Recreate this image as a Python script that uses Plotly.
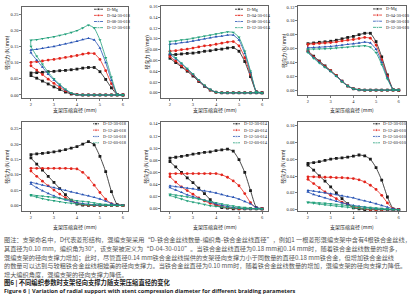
import plotly.graph_objects as go

W, H = 418, 300

# ---------------- data ----------------
# loading path (compression 6 -> 2 mm) and unloading path (2 -> 6 mm)
XU = [6.0, 5.75, 5.5, 5.25, 5.0, 4.75, 4.5, 4.25, 4.0, 3.75, 3.5, 3.25, 3.0, 2.75, 2.5, 2.25, 2.0]
XL = [2.0, 2.25, 2.5, 2.75, 3.0, 3.25, 3.5, 3.75, 4.0, 4.25, 4.5, 4.75, 5.0, 5.25, 5.5, 5.75, 6.0]

# panel 1 : D-xx-30-018
P1_NAMES = ["D-Mg", "D-04-30-018", "D-08-30-018", "D-12-30-018"]
P1_UP = [
    [0, 0.001, 0.022, 0.048, 0.072, 0.085, 0.085, 0.083, 0.080, 0.078, 0.076, 0.075, 0.073, 0.072, 0.070, 0.069, 0.068],
    [0, 0.002, 0.035, 0.075, 0.110, 0.128, 0.129, 0.126, 0.122, 0.119, 0.116, 0.113, 0.110, 0.108, 0.105, 0.103, 0.101],
    [0, 0.002, 0.045, 0.100, 0.145, 0.170, 0.175, 0.171, 0.166, 0.162, 0.158, 0.154, 0.150, 0.147, 0.144, 0.141, 0.139],
    [0, 0.002, 0.055, 0.115, 0.170, 0.207, 0.216, 0.207, 0.199, 0.193, 0.188, 0.184, 0.180, 0.177, 0.174, 0.171, 0.169],
]
P1_LOW = [
    [0.060, 0.052, 0.043, 0.034, 0.025, 0.017, 0.009, 0.003, 0.001, 0, 0, 0, 0, 0, 0, 0, 0],
    [0.090, 0.077, 0.063, 0.049, 0.036, 0.024, 0.013, 0.005, 0.001, 0, 0, 0, 0, 0, 0, 0, 0],
    [0.130, 0.108, 0.086, 0.064, 0.046, 0.030, 0.016, 0.005, 0.001, 0, 0, 0, 0, 0, 0, 0, 0],
    [0.150, 0.120, 0.095, 0.070, 0.050, 0.033, 0.018, 0.006, 0.001, 0, 0, 0, 0, 0, 0, 0, 0],
]

# panel 2 : D-xx-30-014
P2_NAMES = ["D-Mg", "D-04-30-014", "D-08-30-014", "D-12-30-014"]
P2_UP = [
    [0, 0.002, 0.030, 0.058, 0.077, 0.084, 0.083, 0.081, 0.080, 0.078, 0.077, 0.075, 0.0736, 0.073, 0.072, 0.071, 0.0705],
    [0, 0.002, 0.034, 0.065, 0.087, 0.095, 0.094, 0.092, 0.090, 0.088, 0.087, 0.085, 0.083, 0.081, 0.080, 0.078, 0.077],
    [0, 0.002, 0.038, 0.073, 0.098, 0.107, 0.107, 0.105, 0.104, 0.102, 0.100, 0.098, 0.096, 0.094, 0.093, 0.091, 0.090],
    [0, 0.002, 0.040, 0.077, 0.103, 0.112, 0.113, 0.111, 0.109, 0.107, 0.105, 0.103, 0.101, 0.099, 0.098, 0.096, 0.095],
]
P2_LOW = [
    [0.064, 0.056, 0.048, 0.040, 0.031, 0.021, 0.012, 0.005, 0.001, 0, 0, 0, 0, 0, 0, 0, 0],
    [0.067, 0.059, 0.050, 0.042, 0.033, 0.022, 0.013, 0.005, 0.001, 0, 0, 0, 0, 0, 0, 0, 0],
    [0.072, 0.063, 0.054, 0.044, 0.034, 0.023, 0.013, 0.006, 0.001, 0, 0, 0, 0, 0, 0, 0, 0],
    [0.075, 0.065, 0.055, 0.045, 0.035, 0.024, 0.014, 0.006, 0.001, 0, 0, 0, 0, 0, 0, 0, 0],
]

# panel 3 : D-xx-30-010
P3_NAMES = ["D-Mg", "D-04-30-010", "D-08-30-010", "D-12-30-010"]
P3_UP = [
    [0, 0.001, 0.022, 0.048, 0.070, 0.082, 0.082, 0.080, 0.0775, 0.076, 0.074, 0.072, 0.0705, 0.0697, 0.069, 0.068, 0.067],
    [0, 0.001, 0.020, 0.044, 0.065, 0.075, 0.076, 0.0745, 0.073, 0.072, 0.071, 0.0695, 0.0686, 0.068, 0.0673, 0.0667, 0.066],
    [0, 0.001, 0.018, 0.040, 0.059, 0.068, 0.0693, 0.068, 0.067, 0.066, 0.065, 0.064, 0.063, 0.0625, 0.062, 0.0615, 0.061],
    [0, 0.001, 0.016, 0.037, 0.054, 0.062, 0.064, 0.0635, 0.063, 0.062, 0.0615, 0.0607, 0.060, 0.0597, 0.0594, 0.0592, 0.059],
]
P3_LOW = [
    [0.057, 0.049, 0.042, 0.035, 0.028, 0.021, 0.013, 0.006, 0.002, 0.0005, 0, 0, 0, 0, 0, 0, 0],
    [0.056, 0.048, 0.041, 0.034, 0.028, 0.021, 0.013, 0.006, 0.002, 0.0005, 0, 0, 0, 0, 0, 0, 0],
    [0.055, 0.047, 0.040, 0.033, 0.027, 0.020, 0.013, 0.006, 0.002, 0.0005, 0, 0, 0, 0, 0, 0, 0],
    [0.054, 0.046, 0.039, 0.033, 0.027, 0.020, 0.012, 0.006, 0.002, 0.0005, 0, 0, 0, 0, 0, 0, 0],
]

# panel 4 : D-12-xx-018
P4_NAMES = ["D-12-30-018", "D-12-40-018", "D-12-50-018", "D-12-60-018"]
P4_UP = [
    [0, 0.002, 0.045, 0.110, 0.160, 0.198, 0.208, 0.200, 0.192, 0.187, 0.182, 0.178, 0.175, 0.172, 0.170, 0.168, 0.166],
    [0, 0.001, 0.006, 0.020, 0.042, 0.066, 0.090, 0.108, 0.119, 0.120, 0.121, 0.121, 0.121, 0.121, 0.121, 0.121, 0.121],
    [0, 0.001, 0.006, 0.014, 0.021, 0.026, 0.031, 0.035, 0.040, 0.044, 0.049, 0.053, 0.058, 0.062, 0.066, 0.071, 0.075],
    [0, 0, 0.001, 0.003, 0.005, 0.008, 0.011, 0.013, 0.015, 0.018, 0.020, 0.023, 0.026, 0.028, 0.030, 0.032, 0.0345],
]
P4_LOW = [
    [0.155, 0.135, 0.115, 0.095, 0.075, 0.055, 0.035, 0.017, 0.004, 0.001, 0, 0, 0, 0, 0, 0, 0],
    [0.112, 0.095, 0.079, 0.064, 0.050, 0.037, 0.025, 0.015, 0.008, 0.003, 0.001, 0, 0, 0, 0, 0, 0],
    [0.070, 0.058, 0.048, 0.039, 0.031, 0.024, 0.018, 0.013, 0.009, 0.006, 0.004, 0.002, 0.001, 0, 0, 0, 0],
    [0.032, 0.027, 0.022, 0.018, 0.015, 0.012, 0.009, 0.007, 0.005, 0.003, 0.002, 0.001, 0.0005, 0, 0, 0, 0],
]

# panel 5 : D-12-xx-014
P5_NAMES = ["D-12-30-014", "D-12-40-014", "D-12-50-014", "D-12-60-014"]
P5_UP = [
    [0, 0.002, 0.030, 0.060, 0.081, 0.095, 0.0985, 0.097, 0.096, 0.094, 0.093, 0.0915, 0.090, 0.088, 0.0865, 0.085, 0.0835],
    [0, 0.001, 0.010, 0.025, 0.038, 0.046, 0.052, 0.056, 0.058, 0.058, 0.058, 0.058, 0.058, 0.058, 0.058, 0.058, 0.0577],
    [0, 0.002, 0.008, 0.012, 0.016, 0.019, 0.021, 0.0235, 0.026, 0.028, 0.0295, 0.031, 0.033, 0.034, 0.0355, 0.0365, 0.0377],
    [0, 0, 0.001, 0.002, 0.003, 0.0045, 0.006, 0.008, 0.010, 0.012, 0.014, 0.016, 0.018, 0.0195, 0.021, 0.0225, 0.024],
]
P5_LOW = [
    [0.078, 0.069, 0.060, 0.051, 0.043, 0.034, 0.025, 0.015, 0.006, 0.002, 0.001, 0, 0, 0, 0, 0, 0],
    [0.053, 0.044, 0.036, 0.030, 0.024, 0.018, 0.013, 0.009, 0.0065, 0.004, 0.002, 0.001, 0, 0, 0, 0, 0],
    [0.035, 0.031, 0.027, 0.023, 0.020, 0.017, 0.014, 0.011, 0.008, 0.006, 0.004, 0.002, 0.001, 0, 0, 0, 0],
    [0.022, 0.019, 0.016, 0.013, 0.011, 0.009, 0.007, 0.005, 0.004, 0.003, 0.002, 0.001, 0.001, 0, 0, 0, 0],
]

# panel 6 : D-12-xx-010
P6_NAMES = ["D-12-30-010", "D-12-40-010", "D-12-50-010", "D-12-60-010"]
P6_UP = [
    [0, 0.001, 0.015, 0.035, 0.050, 0.060, 0.064, 0.065, 0.0636, 0.0625, 0.0615, 0.061, 0.060, 0.0585, 0.057, 0.056, 0.055],
    [0, 0.001, 0.008, 0.017, 0.024, 0.029, 0.033, 0.0355, 0.037, 0.0375, 0.038, 0.038, 0.0385, 0.0385, 0.0388, 0.039, 0.039],
    [0, 0.001, 0.003, 0.005, 0.007, 0.0088, 0.0105, 0.012, 0.014, 0.0152, 0.0165, 0.0178, 0.019, 0.020, 0.021, 0.022, 0.0228],
    [0, 0, 0.001, 0.0015, 0.002, 0.0025, 0.003, 0.0035, 0.004, 0.0048, 0.0055, 0.0062, 0.007, 0.0075, 0.008, 0.0085, 0.0088],
]
P6_LOW = [
    [0.053, 0.047, 0.040, 0.034, 0.027, 0.020, 0.013, 0.007, 0.002, 0.001, 0, 0, 0, 0, 0, 0, 0],
    [0.036, 0.031, 0.026, 0.021, 0.017, 0.013, 0.009, 0.006, 0.003, 0.002, 0.001, 0, 0, 0, 0, 0, 0],
    [0.021, 0.018, 0.016, 0.014, 0.012, 0.010, 0.008, 0.0065, 0.005, 0.004, 0.003, 0.002, 0.001, 0.0005, 0, 0, 0],
    [0.0085, 0.0075, 0.0065, 0.0057, 0.005, 0.0042, 0.0035, 0.0028, 0.002, 0.0015, 0.001, 0.0007, 0.0005, 0.0002, 0, 0, 0],
]

X_TICKS = [2, 3, 4, 5, 6]
Y_TICKS = [
    [0, 0.05, 0.10, 0.15, 0.20, 0.25],
    [0, 0.02, 0.04, 0.06, 0.08, 0.10, 0.12, 0.14, 0.16],
    [0, 0.02, 0.04, 0.06, 0.08, 0.10, 0.12],
    [0, 0.05, 0.10, 0.15, 0.20, 0.25],
    [0, 0.02, 0.04, 0.06, 0.08, 0.10, 0.12, 0.14],
    [0, 0.02, 0.04, 0.06, 0.08, 0.10],
]

X_TITLE = "支架压缩直径 (mm)"
Y_TITLE = "径向力 (N/mm)"

CAPTION = [
    "图注：支架命名中，D代表菱形结构，混编支架采用“D-铁合金丝线数量-编织角-铁合金丝线直径”，例如1 一根菱形混编支架中含有4根铁合金丝线，",
    "其直径为0.10 mm，编织角为30°，该支架被定义为“D-04-30-010”。当铁合金丝线直径为0.18 mm和0.14 mm时，随着铁合金丝线数量的增多，",
    "混编支架的径向支撑力增加；此时，尽管直径0.14 mm铁合金丝线提供的支架径向支撑力小于同数量的直径0.18 mm铁合金，但增加铁合金丝线",
    "的数量可以达到与较粗铁合金丝线相媲美的径向支撑力。当铁合金丝直径为0.10 mm时，随着铁合金丝线数量的增加，混编支架的径向支撑力降低。",
    "增大编织角度，混编支架的径向支撑力降低。",
]
FIG_TITLE_CN = "图6 | 不同编织参数时支架径向支撑力随支架压缩直径的变化"
FIG_TITLE_EN = "Figure 6 | Variation of radial support with stent compression diameter for different braiding parameters"

DATA = [
    (P1_NAMES, P1_UP, P1_LOW), (P2_NAMES, P2_UP, P2_LOW), (P3_NAMES, P3_UP, P3_LOW),
    (P4_NAMES, P4_UP, P4_LOW), (P5_NAMES, P5_UP, P5_LOW), (P6_NAMES, P6_UP, P6_LOW),
]

# ---------------- layout / style ----------------
COLORS = ["#1a1a1a", "#e3241b", "#2451b3", "#21a07a"]
SYMBOLS = ["square", "circle", "triangle-up", "triangle-down"]

# frame (left, right, top, bottom) in px, axis ranges
PANELS = [
    dict(frame=(22, 128, 5, 97), xr=(1.61, 6.22), yr=(-0.0094, 0.272), xl_y=109.5),
    dict(frame=(161, 268, 4, 97), xr=(1.61, 6.26), yr=(-0.0097, 0.161), xl_y=109.5),
    dict(frame=(298, 406, 4, 94), xr=(1.56, 6.32), yr=(-0.0071, 0.1214), xl_y=109.5),
    dict(frame=(22, 128, 121, 211), xr=(1.61, 6.22), yr=(-0.018, 0.273), xl_y=227),
    dict(frame=(161, 268, 121, 211), xr=(1.61, 6.26), yr=(-0.0035, 0.1435), xl_y=227),
    dict(frame=(298, 406, 121, 211), xr=(1.56, 6.32), yr=(-0.0015, 0.1045), xl_y=227),
]
# legend: line start, line end, text x, first row y, row step (px)
LEGENDS = [
    (94, 103, 105, 7.3, 6.2), (235, 243, 245, 7.3, 6.2), (373, 382, 384, 7.0, 6.2),
    (93, 99, 101, 123, 6.4), (233, 240, 242, 123, 6.4), (373, 380, 381, 123, 6.4),
]

TICKFONT = dict(family="Liberation Serif", size=4.5, color="#222")
CJK = "Noto Sans CJK SC"

fig = go.Figure()
layout = dict(width=W, height=H, margin=dict(l=0, r=0, t=0, b=0),
              paper_bgcolor="white", plot_bgcolor="rgba(0,0,0,0)", showlegend=False)
annotations = []

for i, (pan, (names, ups, lows)) in enumerate(zip(PANELS, DATA)):
    k = i + 1
    l, r, t, b = pan["frame"]
    xa = "xaxis" if k == 1 else f"xaxis{k}"
    ya = "yaxis" if k == 1 else f"yaxis{k}"
    xs = "x" if k == 1 else f"x{k}"
    ys = "y" if k == 1 else f"y{k}"
    axis_common = dict(showline=True, linecolor="#222", linewidth=0.7, mirror=True,
                       ticks="outside", ticklen=2, tickwidth=0.6, tickcolor="#222",
                       showgrid=False, zeroline=False, tickfont=TICKFONT)
    layout[xa] = dict(domain=[l / W, r / W], range=list(pan["xr"]), anchor=ys,
                      tickvals=X_TICKS, ticktext=[str(v) for v in X_TICKS], **axis_common)
    layout[ya] = dict(domain=[1 - b / H, 1 - t / H], range=list(pan["yr"]), anchor=xs,
                      tickvals=Y_TICKS[i], ticktext=[f"{v:.2f}" for v in Y_TICKS[i]], **axis_common)
    for j in range(4):
        fig.add_trace(go.Scatter(
            x=XU + XL, y=ups[j] + lows[j], mode="lines+markers", xaxis=xs, yaxis=ys,
            line=dict(color=COLORS[j], width=0.8, shape="spline", smoothing=0.4),
            marker=dict(symbol=SYMBOLS[j], size=2.8, color=COLORS[j]),
            name=names[j], hoverinfo="skip"))
    # axis titles
    annotations.append(dict(text=X_TITLE, x=(l + r) / 2, y=pan["xl_y"], xref="x7", yref="y7",
                            showarrow=False, font=dict(family=CJK, size=5, color="#222"),
                            xanchor="center", yanchor="middle"))
    annotations.append(dict(text=Y_TITLE, x=l - 14.5, y=(t + b) / 2, xref="x7", yref="y7",
                            showarrow=False, textangle=-90, font=dict(family=CJK, size=5, color="#222"),
                            xanchor="center", yanchor="middle"))
    # legend
    x0, x1, xt, y0, dy = LEGENDS[i]
    for j in range(4):
        yy = y0 + j * dy
        fig.add_trace(go.Scatter(
            x=[x0, (x0 + x1) / 2, x1], y=[yy, yy, yy], mode="lines+markers",
            xaxis="x7", yaxis="y7", line=dict(color=COLORS[j], width=0.8),
            marker=dict(symbol=SYMBOLS[j], size=[0, 2.8, 0], color=COLORS[j]),
            hoverinfo="skip"))
        annotations.append(dict(text=names[j], x=xt, y=yy, xref="x7", yref="y7", showarrow=False,
                                xanchor="left", yanchor="middle",
                                font=dict(family="Liberation Serif", size=4.4, color="#222")))

layout["xaxis7"] = dict(domain=[0, 1], range=[0, W], visible=False, anchor="y7", fixedrange=True)
layout["yaxis7"] = dict(domain=[0, 1], range=[H, 0], visible=False, anchor="x7", fixedrange=True)

# caption
cap_y = [240, 249, 257.7, 266.3, 275]
for txt, yy in zip(CAPTION, cap_y):
    annotations.append(dict(text=txt, x=2, y=yy, xref="x7", yref="y7", showarrow=False,
                            xanchor="left", yanchor="middle",
                            font=dict(family=CJK, size=6.2, color="#555")))
annotations.append(dict(text="<b>" + FIG_TITLE_CN + "</b>", x=2, y=283.5, xref="x7", yref="y7",
                        showarrow=False, xanchor="left", yanchor="middle",
                        font=dict(family=CJK, size=6.3, color="#222")))
annotations.append(dict(text="<b>" + FIG_TITLE_EN + "</b>", x=2, y=292, xref="x7", yref="y7",
                        showarrow=False, xanchor="left", yanchor="middle",
                        font=dict(family="Open Sans", size=5.6, color="#222")))

layout["annotations"] = annotations
fig.update_layout(**layout)
fig.write_html("out.html", config={"displayModeBar": False, "staticPlot": True},
               post_script="document.body.style.margin='0';document.body.style.overflow='hidden';")
